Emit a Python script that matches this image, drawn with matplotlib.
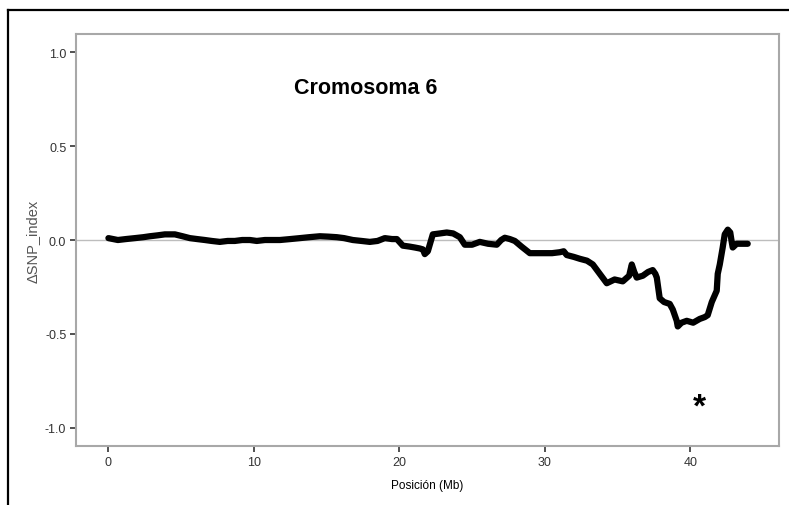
import numpy as np
import matplotlib.pyplot as plt
from matplotlib.lines import Line2D

plt.rcParams["font.family"] = ["Liberation Sans", "DejaVu Sans"]

# posición (Mb) y ΔSNP_index
pos = [0.0, 0.65, 1.2, 1.82, 2.4, 2.85, 3.4, 3.88, 4.57, 5.1, 5.6, 6.1, 6.63,
       7.1, 7.66, 8.2, 8.69, 9.2, 9.73, 10.2, 10.76, 11.3, 11.79, 12.5, 13.16,
       13.8, 14.54, 15.1, 15.7, 16.2, 16.8, 17.4, 17.97, 18.5, 19.0, 19.5,
       19.83, 20.24, 20.7, 21.07, 21.4, 21.62, 21.75, 21.96, 22.3, 22.8, 23.26,
       23.7, 24.16, 24.5, 25.0, 25.53, 26.1, 26.7, 27.0, 27.25, 27.6, 27.94,
       28.4, 28.97, 29.5, 30.0, 30.5, 31.03, 31.3, 31.51, 32.0, 32.41, 32.9,
       33.3, 33.78, 34.26, 34.8, 35.36, 35.8, 35.98, 36.15, 36.32, 36.74,
       37.1, 37.42, 37.6, 37.7, 37.9, 38.2, 38.59, 38.8, 39.07, 39.14, 39.4,
       39.76, 40.2, 40.65, 41.0, 41.2, 41.48, 41.82, 41.89, 42.03, 42.23,
       42.37, 42.58, 42.75, 42.85, 42.92, 43.19, 43.6, 43.95]
delta = [0.01, 0.0, 0.005, 0.01, 0.015, 0.02, 0.025, 0.03, 0.03, 0.02, 0.01,
         0.005, 0.0, -0.005, -0.01, -0.005, -0.005, 0.0, 0.0, -0.005, 0.0,
         0.0, 0.0, 0.005, 0.01, 0.015, 0.02, 0.018, 0.015, 0.01, 0.0, -0.005,
         -0.01, -0.005, 0.01, 0.005, 0.005, -0.03, -0.035, -0.04, -0.045,
         -0.05, -0.075, -0.06, 0.03, 0.035, 0.04, 0.035, 0.015, -0.025,
         -0.025, -0.01, -0.02, -0.025, 0.0, 0.012, 0.005, -0.005, -0.035,
         -0.07, -0.07, -0.07, -0.07, -0.065, -0.06, -0.08, -0.09, -0.1, -0.11,
         -0.13, -0.18, -0.23, -0.21, -0.22, -0.19, -0.13, -0.17, -0.2, -0.19,
         -0.17, -0.16, -0.18, -0.2, -0.31, -0.33, -0.34, -0.37, -0.43, -0.46,
         -0.44, -0.43, -0.44, -0.42, -0.41, -0.40, -0.33, -0.27, -0.18, -0.13,
         -0.04, 0.03, 0.055, 0.04, -0.01, -0.04, -0.02, -0.02, -0.02]

fig = plt.figure(figsize=(7.89, 5.06), dpi=100)
ax = fig.add_axes([0.0963, 0.1166, 0.891, 0.8142])

gris = "#a8a8a8"
ax.axhline(0, color="#bdbdbd", lw=1, zorder=1)
ax.plot(pos, delta, color="black", lw=4.5, solid_joinstyle="round",
        solid_capstyle="round", zorder=3)

ax.set_xlim(-2.23, 46.1)
ax.set_ylim(-1.096, 1.096)
ax.set_xticks([0, 10, 20, 30, 40])
ax.set_yticks([-1.0, -0.5, 0.0, 0.5, 1.0])
ax.set_yticklabels(["-1.0", "-0.5", "0.0", "0.5", "1.0"])
for s in ax.spines.values():
    s.set_color(gris)
    s.set_linewidth(1.5)
ax.tick_params(direction="out", length=4, width=1.2, color="#333333",
               labelsize=9, labelcolor="#333333", pad=3)
for lab in ax.get_xticklabels() + ax.get_yticklabels():
    lab.set_family(["Liberation Sans Narrow", "Liberation Sans"])

ax.set_xlabel("Posición (Mb)", fontsize=8.5, labelpad=8)
ax.set_ylabel("ΔSNP_index", fontsize=10.5, color="#555555", labelpad=4)

ax.text(17.7, 0.81, "Cromosoma 6", fontsize=15.5, fontweight="bold",
        ha="center", va="center")
ax.text(40.6, -0.89, "*", fontsize=24, fontweight="bold",
        ha="center", va="center")

# marco exterior (arriba e izquierda)
fig.add_artist(Line2D([0.0101, 1.0], [0.978, 0.978], color="black", lw=1.6,
                      transform=fig.transFigure))
fig.add_artist(Line2D([0.0101, 0.0101], [0.0, 0.978], color="black", lw=1.6,
                      transform=fig.transFigure))

fig.savefig("out.png", dpi=100)
